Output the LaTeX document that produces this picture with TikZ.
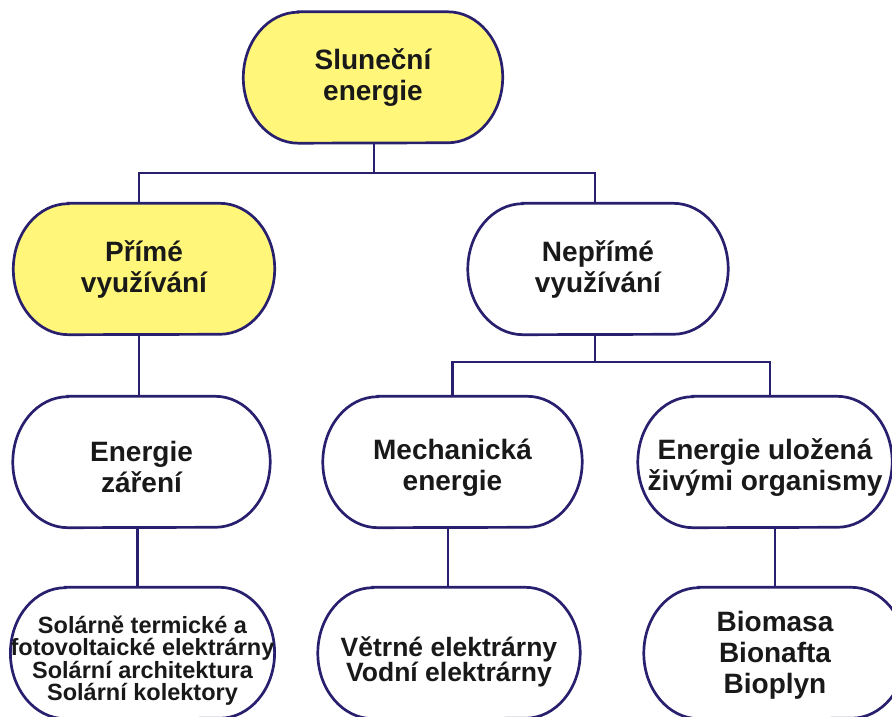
\documentclass[tikz,border=0pt]{standalone}
\usepackage{fontspec}
\setmainfont{Liberation Sans}
\usetikzlibrary{calc}
\pgfdeclarelayer{background}
\pgfsetlayers{background,main}
\definecolor{linec}{RGB}{40,32,110}
\definecolor{sunfill}{RGB}{255,246,122}
\definecolor{txtc}{RGB}{25,25,25}
\newcommand\blobrx{55pt}
\newcommand\blobry{65.5pt}
\newcommand\blob[2]{%
\begin{pgfonlayer}{background}
\path[blobline,fill=#1] ([xshift=\blobrx]#2.north west) -- ([xshift=-\blobrx]#2.north east)
 arc[start angle=90,end angle=-90,x radius=\blobrx,y radius=\blobry] -- ([xshift=\blobrx]#2.south west)
 arc[start angle=270,end angle=90,x radius=\blobrx,y radius=\blobry] -- cycle;
\end{pgfonlayer}}
\newcommand\lift[1]{\rule{0pt}{#1}}
\begin{document}
\begin{tikzpicture}[x=1pt,y=1pt,
  blobline/.style={draw=linec,line width=2.7pt},
  conn/.style={draw=linec,line width=2.7pt},
  box/.style={inner sep=0pt,minimum height=131pt,align=center,text=txtc,font=\bfseries\fontsize{28}{31}\selectfont},
  smalltxt/.style={font=\bfseries\fontsize{23.5}{22}\selectfont},
  midtxt/.style={font=\bfseries\fontsize{26.5}{25}\selectfont}]
\useasboundingbox (0,0) rectangle (892,717);
\clip (0,0) rectangle (892,717);
\node[box,minimum width=259pt] (sun) at (373,639.5) {Sluneční\\energie};
\node[box,minimum width=261pt] (prime) at (144,448) {Přímé\\využívání};
\node[box,minimum width=260pt] (nep) at (598,448) {Nepřímé\\využívání};
\node[box,minimum width=257pt] (zar) at (141.5,255) {\lift{31pt}Energie\\záření};
\node[box,minimum width=259pt] (mech) at (452.5,255) {\lift{31pt}Mechanická\\energie};
\node[box,minimum width=254pt] (org) at (765,255) {\lift{31pt}Energie uložená\\živými organismy};
\node[box,smalltxt,minimum width=259pt] (sol) at (142.5,64) {\lift{33pt}Solárně termické a\\fotovoltaické elektrárny\\Solární architektura\\Solární kolektory};
\node[box,midtxt,minimum width=262pt] (wind) at (449,64) {\lift{37pt}Větrné elektrárny\\Vodní elektrárny};
\node[box,minimum width=262pt] (bio) at (775,64) {\lift{25pt}Biomasa\\Bionafta\\Bioplyn};
\blob{sunfill}{sun}
\blob{sunfill}{prime}
\blob{white}{nep}
\blob{white}{zar}
\blob{white}{mech}
\blob{white}{org}
\blob{white}{sol}
\blob{white}{wind}
\blob{white}{bio}
\coordinate (b1) at (374,544);
\coordinate (b2) at (595,355);
\draw[conn] ([xshift=1pt]sun.south) -- (b1);
\draw[conn] ([xshift=-5pt]prime.north) |- (b1) -| ([xshift=-3pt]nep.north);
\draw[conn] ([xshift=-3pt]nep.south) -- (b2);
\draw[conn] (mech.north) |- (b2) -| ([xshift=5pt]org.north);
\draw[conn] ([xshift=-5pt]prime.south) -- ([xshift=-5pt]prime.south |- zar.north);
\draw[conn] ([xshift=-4pt]zar.south) -- ([xshift=-4pt]zar.south |- sol.north);
\draw[conn] ([xshift=-4.5pt]mech.south) -- ([xshift=-4.5pt]mech.south |- wind.north);
\draw[conn] ([xshift=10pt]org.south) -- ([xshift=10pt]org.south |- bio.north);
\end{tikzpicture}
\end{document}
